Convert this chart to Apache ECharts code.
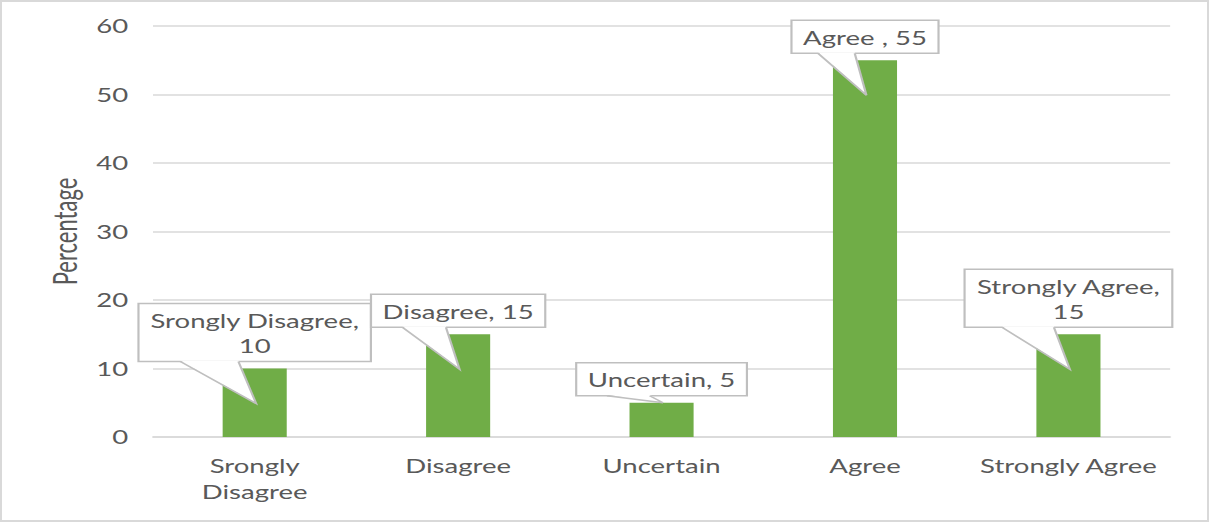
<!DOCTYPE html>
<html><head><meta charset="utf-8">
<script src="https://cdn.jsdelivr.net/npm/echarts@6/dist/echarts.min.js"></script>
<style>
html,body{margin:0;padding:0;background:#fff;overflow:hidden;}
#frame{position:absolute;left:0;top:0;width:1205px;height:518px;border:2px solid #d9d9d9;overflow:hidden;background:#fff;}
#chart{position:absolute;left:-2px;top:-2px;width:834px;height:522px;transform:scaleX(1.45);transform-origin:0 0;}
</style></head><body>
<div id="frame"><div id="chart"></div></div>
<script>
const categories = ['Srongly\nDisagree', 'Disagree', 'Uncertain', 'Agree', 'Strongly Agree'];
const values = [10, 15, 5, 55, 15];
const calloutTexts = ['Srongly Disagree,\n10', 'Disagree, 15', 'Uncertain, 5', 'Agree , 55', 'Strongly Agree,\n15'];
const yTicks = { min: 0, max: 60, interval: 10 };

const FONT = 'Lato';
const FS = 19;
const LH = 25;
const PADX = 8, PADY = 4;
const GAP = 7;
const GREY = '#595959';
const BORDER = '#bfbfbf';

const cv = document.createElement('canvas').getContext('2d');
cv.font = FS + 'px ' + FONT;
function measure(t) { return cv.measureText(t).width; }

const chart = echarts.init(document.getElementById('chart'), null, { renderer: 'svg' });

function renderCallout(params, api) {
  const v = api.value(1);
  const p = api.coord([api.value(0), v]);
  const x = p[0], y = p[1];
  const txt = calloutTexts[params.dataIndex];
  const lines = txt.split('\n');
  const w = Math.max.apply(null, lines.map(measure)) + 2 * PADX;
  const h = lines.length * LH + 2 * PADY;
  const boxBottom = y - GAP;
  const boxTop = boxBottom - h;
  const left = x - w / 2;
  const tipX = x + 1;
  const tipY = v > 5 ? y + 35 : y;
  const bx1 = x - 0.32 * w, bx2 = x - 0.07 * w;
  return {
    type: 'group',
    children: [
      { type: 'rect', shape: { x: left, y: boxTop, width: w, height: h },
        style: { fill: '#fff', stroke: BORDER, lineWidth: 1.5 } },
      { type: 'polygon', shape: { points: [[bx1, boxBottom - 1], [bx2, boxBottom - 1], [tipX, tipY]] },
        style: { fill: '#fff', stroke: null } },
      { type: 'polyline', shape: { points: [[bx1, boxBottom], [tipX, tipY], [bx2, boxBottom]] },
        style: { fill: null, stroke: BORDER, lineWidth: 1.5 } },
      { type: 'text', style: { text: txt, x: x, y: boxTop + PADY + 1, align: 'center', verticalAlign: 'top',
        fill: GREY, fontSize: FS, fontFamily: FONT, lineHeight: LH } }
    ]
  };
}

chart.setOption({
  animation: false,
  backgroundColor: '#fff',
  grid: { left: 105.5, right: 27, top: 26, bottom: 85, containLabel: false },
  xAxis: {
    type: 'category', data: categories,
    axisTick: { show: false },
    axisLine: { lineStyle: { color: '#d9d9d9', width: 1.5 } },
    axisLabel: { color: GREY, fontSize: FS, fontFamily: FONT, margin: 16, lineHeight: 26, interval: 0 }
  },
  yAxis: {
    type: 'value', min: yTicks.min, max: yTicks.max, interval: yTicks.interval,
    axisLabel: { color: GREY, fontSize: FS, fontFamily: FONT, margin: 17 },
    splitLine: { lineStyle: { color: '#d9d9d9', width: 1.5 } },
    name: 'Percentage', nameLocation: 'middle', nameGap: 47, nameRotate: 90,
    nameTextStyle: { color: GREY, fontSize: 22, fontFamily: FONT }
  },
  series: [
    { type: 'bar', data: values, barWidth: '31.5%', itemStyle: { color: '#70AD47' }, z: 2 },
    { type: 'custom', coordinateSystem: 'cartesian2d', clip: false, z: 5,
      data: values.map((v, i) => [i, v]), encode: { x: 0, y: 1 },
      renderItem: renderCallout }
  ]
});
</script>
</body></html>
